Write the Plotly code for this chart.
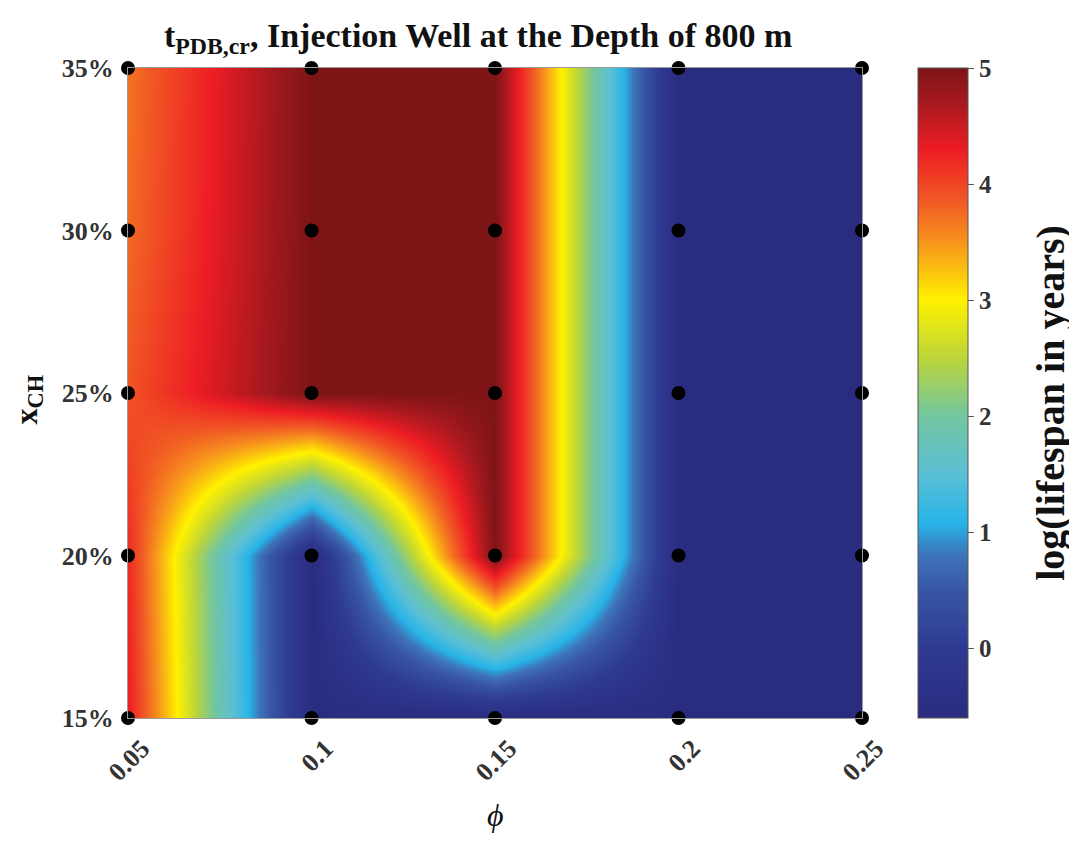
import plotly.graph_objects as go

# Data
phi = [0.05, 0.10, 0.15, 0.20, 0.25]
x_ch = [15, 20, 25, 30, 35]
x_ch_labels = ["15%", "20%", "25%", "30%", "35%"]
phi_labels = ["0.05", "0.1", "0.15", "0.2", "0.25"]
# log(lifespan in years); rows follow x_ch, columns follow phi
z_15 = [4.3, -0.6, -0.6, -0.6, -0.6]
z_20 = [4.2, -0.6, 5.0, -0.6, -0.6]
z_25 = [3.9, 5.0, 5.0, -0.6, -0.6]
z_30 = [3.75, 5.0, 5.0, -0.6, -0.6]
z_35 = [3.7, 5.0, 5.0, -0.6, -0.6]
z = [z_15, z_20, z_25, z_30, z_35]
cbar_ticks = [0, 1, 2, 3, 4, 5]

zmin, zmax = -0.6, 5.0
def f(v):
    return (v - zmin) / (zmax - zmin)

colorscale = [
    [f(-0.6), "#2a2c80"],
    [f(0.0), "#2e3a92"],
    [f(0.5), "#3856a5"],
    [f(0.8), "#3e74b9"],
    [f(1.08), "#27b4e8"],
    [f(1.5), "#5bbfd5"],
    [f(2.0), "#72c6a0"],
    [f(2.5), "#bcd53a"],
    [f(3.0), "#fff100"],
    [f(3.5), "#f7941d"],
    [f(3.85), "#f15a24"],
    [f(4.3), "#ed1c24"],
    [f(4.7), "#a6191e"],
    [f(5.0), "#7d1416"],
]

FONT = "Liberation Serif"

fig = go.Figure()
fig.add_trace(go.Heatmap(
    x=phi, y=x_ch, z=z, zmin=zmin, zmax=zmax, zsmooth="best",
    colorscale=colorscale,
    colorbar=dict(
        x=1.0763, xanchor="left", xpad=0, y=0.5, yanchor="middle", ypad=0,
        len=1, lenmode="fraction", thickness=50, thicknessmode="pixels",
        outlinewidth=1, outlinecolor="#555555",
        tickvals=cbar_ticks, ticks="outside", ticklen=6, tickcolor="#555555",
        tickfont=dict(family=FONT, size=25, color="#333333", weight="bold"),
    ),
    showscale=True,
    hoverinfo="skip",
))

px_, py_ = [], []
for yv in x_ch:
    for xv in phi:
        px_.append(xv)
        py_.append(yv)
fig.add_trace(go.Scatter(
    x=px_, y=py_, mode="markers", cliponaxis=False,
    marker=dict(color="black", size=14), showlegend=False, hoverinfo="skip",
))

fig.update_layout(
    width=1077, height=843,
    margin=dict(l=120, r=223, t=60, b=133),
    paper_bgcolor="white", plot_bgcolor="white",
    showlegend=False,
    title=dict(
        text="t<sub>PDB,cr</sub>, Injection Well at the Depth of 800 m",
        x=0.477, xref="paper", xanchor="center",
        y=0.968, yref="container", yanchor="middle",
        font=dict(family=FONT, size=34, color="#111111", weight="bold"),
    ),
    xaxis=dict(
        range=[0.05, 0.25], tickvals=phi, ticktext=phi_labels, tickangle=-45,
        tickfont=dict(family=FONT, size=26, color="#333333", weight="bold"),
        showgrid=False, zeroline=False, ticks="",
        ticklabelshift=14, ticklabelstandoff=4,
        showline=True, linecolor="#999999", linewidth=1, mirror=True,
    ),
    yaxis=dict(
        range=[15, 35], tickvals=x_ch, ticktext=x_ch_labels,
        tickfont=dict(family=FONT, size=26, color="#333333", weight="bold"),
        showgrid=False, zeroline=False, ticks="", ticklabelstandoff=8,
        showline=True, linecolor="#999999", linewidth=1, mirror=True,
    ),
    annotations=[
        dict(text="x<sub>CH</sub>", xref="paper", yref="paper",
             x=-0.1362, y=0.49, xanchor="center", yanchor="middle",
             textangle=-90, showarrow=False,
             font=dict(family=FONT, size=32, color="#111111", weight="bold")),
        dict(text="<i>ϕ</i>", xref="paper", yref="paper",
             x=0.5, y=-0.149, xanchor="center", yanchor="middle",
             showarrow=False,
             font=dict(family=FONT, size=32, color="#111111")),
        dict(text="log(lifespan in years)", xref="paper", yref="paper",
             x=1.2575, y=0.485, xanchor="center", yanchor="middle",
             textangle=-90, showarrow=False,
             font=dict(family=FONT, size=40, color="#111111", weight="bold")),
    ],
)

fig.write_html("out.html")
